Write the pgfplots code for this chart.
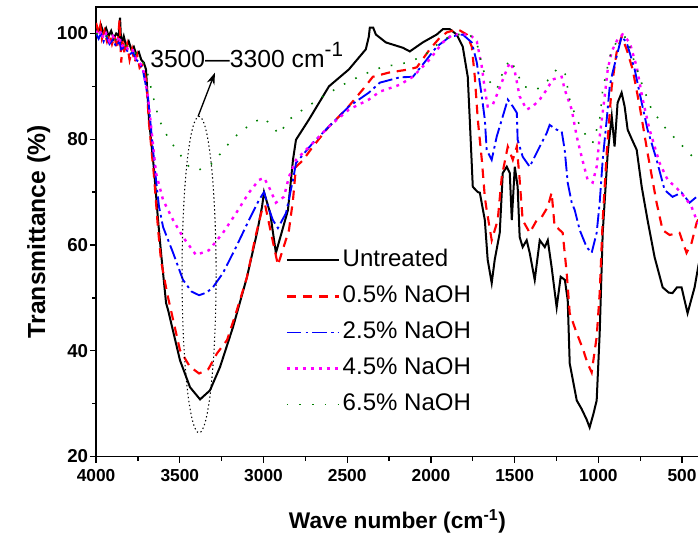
\documentclass[border=0pt]{standalone}
\usepackage{pgfplots}
\pgfplotsset{compat=1.18}
\usepackage{fontspec}
\setmainfont{Liberation Sans}
\usetikzlibrary{arrows.meta,calc}
\definecolor{cred}{RGB}{255,0,0}
\definecolor{cblue}{RGB}{0,0,255}
\definecolor{cmag}{RGB}{255,0,255}
\definecolor{cgreen}{RGB}{0,128,0}
\begin{document}
\begin{tikzpicture}
\begin{axis}[
  scale only axis,
  width=451.5pt, height=336.75pt,
  x dir=reverse,
  xmin=400, xmax=4000, ymin=20, ymax=105,
  xtick={500,1000,...,4000},
  ytick={20,40,60,80,100},
  minor x tick num=1, minor y tick num=1,
  xtick pos=bottom, ytick pos=left,
  tick align=outside,
  major tick length=4.5pt, minor tick length=3pt,
  every tick/.style={black,line width=1pt},
  axis line style={line width=1pt},
  /pgf/number format/assume math mode=true,
  /pgf/number format/set thousands separator={},
  xticklabel style={font=\fontsize{13}{15}\bfseries\selectfont, yshift=-1.5pt},
  yticklabel style={font=\fontsize{14}{16}\bfseries\selectfont, xshift=2pt},
  xlabel={Wave number (cm\textsuperscript{-1})},
  ylabel={Transmittance (\%)},
  xlabel style={font=\fontsize{17}{20}\bfseries\selectfont, yshift=-14pt},
  ylabel style={font=\fontsize{18.5}{22}\bfseries\selectfont, yshift=-2pt},
  legend style={at={(0.314,0.468)}, anchor=north west, draw=none, fill=none,
     font=\fontsize{18}{21.6}\selectfont, row sep=6pt, inner sep=0pt,
     nodes={text height=13pt, text depth=4pt}},
  legend cell align=left,
  legend image code/.code={\draw[#1] (0pt,0pt) -- (39pt,0pt);},
]
% Untreated
\addplot[black, line width=1.5pt] coordinates {
(4000,101) (3985,100.5) (3970,101.5) (3955,100) (3940,101) (3925,99.5) (3910,100.5) (3895,99) (3880,100) (3865,99.5) (3857,103) (3850,98) (3835,99.5) (3820,97.5) (3805,98.5) (3790,97) (3775,97.5) (3760,96) (3745,96.5) (3730,95) (3715,94.5) (3702,93.2)
(3684,83.7) (3654,74.2) (3630,64.7) (3612,58.5) (3582,49) (3570,47.7) (3499,38.2) (3439,33.1) (3379,30.8) (3320,32.5) (3260,36.9) (3182,44.5) (3099,53.9) (3039,62.3) (3009,67.2) (2997,70) (2960,66) (2926,58.5) (2854,66.6) (2824,76.1) (2806,79.9) (2729,83.7) (2609,90) (2490,93.2) (2389,97) (2371,99.4) (2365,101.1) (2345,101.1) (2329,99.8) (2269,98.3) (2168,97.3) (2126,96.6) (2049,98.3) (1965,99.8) (1929,100.8) (1887,100.8) (1846,99.8) (1810,97.5) (1780,91.8) (1768,83.7) (1750,71) (1720,70) (1708,69.9) (1678,64.7) (1661,57.2) (1637,52.8) (1619,57.2) (1589,62.3) (1571,73.6) (1547,74.8) (1529,73.6) (1517,64.7) (1499,74.8) (1482,71) (1470,61.5) (1452,59.6) (1428,60.9) (1410,58.5) (1380,53.4) (1350,60.9) (1320,59.6) (1302,60.9) (1279,55.8) (1249,48.2) (1225,54) (1200,53.4) (1183,49.6) (1171,37.6) (1129,30.6) (1100,29) (1070,27) (1052,25.5) (1030,28) (1010,30.6) (992,43.3) (974,62.3) (944,77.4) (920,84.3) (903,78.6) (885,86.9) (861,88.8) (843,86.2) (825,81.8) (800,80) (771,78) (741,71) (706,64.7) (664,57.7) (616,52) (580,51) (557,50.9) (530,52) (503,52) (467,47.1) (425,52) (400,56.5)
};
\addlegendentry{Untreated}
% 0.5% NaOH
\addplot[cred, line width=1.6pt, dash pattern=on 7pt off 5pt] coordinates {
(4000,102) (3985,100) (3975,101.5) (3965,99) (3950,100.5) (3935,98.5) (3920,100) (3905,98) (3890,99.5) (3875,97) (3860,102.5) (3850,94.5) (3840,99) (3830,96) (3815,98) (3800,95) (3785,97) (3770,94.5) (3755,96) (3740,93.5) (3725,94) (3710,92.5) (3700,91)
(3684,83) (3654,73) (3630,63) (3612,57) (3576,50.9) (3499,40.1) (3440,37) (3385,35.7) (3330,36.5) (3278,39.5) (3218,42) (3159,47.7) (3099,53.9) (3045,62) (3010,66.5) (2990,67.5) (2960,63) (2914,56.2) (2848,62.8) (2824,68.5) (2806,74.8) (2765,76) (2705,78.6) (2609,82.4) (2508,85.6) (2407,89.4) (2347,91.8) (2251,92.6) (2132,93.2) (2084,93.6) (2007,97) (1947,99.2) (1905,100.2) (1840,100.8) (1786,99.8) (1756,97.5) (1738,91.8) (1720,83.7) (1696,76.1) (1678,69) (1667,66.6) (1637,60.9) (1601,64.7) (1577,72.9) (1541,78.6) (1511,76.1) (1487,78.6) (1470,72.3) (1452,64.7) (1410,62.3) (1368,64.7) (1338,65.3) (1302,67.2) (1279,69.9) (1261,63.4) (1243,63.2) (1213,62.3) (1189,54.7) (1171,47.1) (1129,43.3) (1094,40.5) (1064,37.6) (1040,35.9) (1010,42.6) (992,50.9) (974,64.7) (950,77.4) (920,90) (891,96.4) (861,99.4) (831,97) (795,93.2) (753,86.2) (706,77.4) (652,68) (616,62.8) (574,61.9) (515,62.3) (473,58.5) (443,60.4) (413,64.2) (400,65)
};
\addlegendentry{0.5\% NaOH}
% 2.5% NaOH
\addplot[cblue, line width=1.4pt, dash pattern=on 11pt off 3pt on 2pt off 3pt] coordinates {
(4000,100) (3985,99) (3970,100) (3955,98.5) (3940,99.5) (3920,98) (3900,98.8) (3880,97.5) (3860,98.5) (3850,97) (3830,97.5) (3800,96) (3780,96.5) (3760,95) (3740,94.5) (3720,93) (3690,88) (3660,78) (3642,72.3) (3624,67.2) (3600,63.4) (3540,58.5) (3481,53.4) (3430,51.2) (3385,50.5) (3340,51) (3302,52) (3242,54.7) (3164,59.6) (3087,64.7) (3027,68.5) (2997,70) (2970,67) (2944,64.7) (2914,63.2) (2866,66) (2824,72.3) (2806,75.5) (2705,79.3) (2609,82.4) (2490,86.2) (2371,88.8) (2305,90.7) (2186,91.7) (2108,91.8) (2049,94.1) (1965,97.5) (1887,99.4) (1810,99.8) (1756,98.3) (1726,94.5) (1696,88.1) (1678,83.7) (1667,78) (1637,76.1) (1607,80.5) (1571,84.3) (1541,87.5) (1511,86.2) (1487,85) (1482,79.9) (1452,76.7) (1410,74.8) (1380,76.7) (1350,78.6) (1308,81.2) (1291,82.7) (1249,81.8) (1219,81.5) (1201,78) (1183,71.8) (1159,68) (1141,66.6) (1111,62.8) (1070,59.6) (1040,58.5) (1010,62.3) (992,68) (974,76.1) (950,83.7) (932,90) (915,92.6) (891,95.6) (861,99.4) (831,98.3) (783,93.2) (741,86.9) (706,81.8) (652,76.1) (604,70.4) (557,69.1) (503,69.9) (455,68) (413,69.1) (400,69)
};
\addlegendentry{2.5\% NaOH}
% 4.5% NaOH
\addplot[cmag, line width=1.8pt, dash pattern=on 2.2pt off 3.8pt] coordinates {
(4000,100.5) (3985,99.5) (3970,100.5) (3955,99) (3940,100) (3920,98.5) (3900,99.5) (3880,98.5) (3860,99.5) (3850,97.5) (3830,98) (3800,96.5) (3780,96.8) (3760,95) (3740,94.5) (3720,93.5) (3690,88) (3660,79) (3642,73.6) (3600,68.5) (3540,64.7) (3481,61.5) (3403,58.1) (3326,59) (3242,62.3) (3164,66) (3087,69.9) (3027,72.3) (2997,72.7) (2968,71) (2926,68) (2878,69.1) (2848,72.9) (2806,76.1) (2705,79.3) (2609,82.4) (2490,85.6) (2371,87.5) (2305,89) (2186,90.3) (2108,91.8) (2007,95.1) (1929,98.3) (1869,99.8) (1768,99.8) (1726,98.5) (1696,93.7) (1678,89.4) (1661,86.2) (1631,86.5) (1601,88.8) (1559,92.2) (1529,94.5) (1499,92.8) (1470,88.1) (1428,85.6) (1392,86.2) (1350,87.5) (1308,89.4) (1273,91.3) (1219,91.8) (1201,89.4) (1159,85.6) (1129,80.5) (1100,76.7) (1064,72.3) (1034,71.8) (1010,74.8) (992,80.5) (962,88.1) (944,93.2) (920,96.6) (885,98.9) (855,99.8) (813,98.3) (771,93.7) (735,87.5) (694,81.8) (634,75.5) (586,72.3) (533,70.8) (485,69.1) (443,67.2) (413,64.7) (400,64)
};
\addlegendentry{4.5\% NaOH}
% 6.5% NaOH
\addplot[cgreen, line width=1.2pt, dash pattern=on 1.2pt off 8.3pt] coordinates {
(4000,100) (3975,99.5) (3950,100) (3925,99) (3900,99.5) (3875,98.5) (3850,98.5) (3825,97.8) (3800,97.5) (3775,96.5) (3750,96) (3702,93.7) (3660,88.1) (3624,83.7) (3564,79.9) (3505,77.4) (3445,74.8) (3385,74.2) (3302,75.5) (3224,78.6) (3147,81.2) (3063,83.1) (3003,84.1) (2944,82.4) (2908,80.9) (2848,83.7) (2765,85.6) (2645,88.1) (2526,90.3) (2407,92.2) (2287,93.7) (2168,94.3) (2049,95.6) (1947,98.3) (1869,99.8) (1768,99.8) (1720,97.5) (1690,93.2) (1649,90.9) (1607,89.4) (1571,92.6) (1529,95.1) (1487,92.8) (1452,90) (1368,89.4) (1308,90.9) (1249,93.2) (1201,92.8) (1171,87.5) (1129,83.7) (1070,80.5) (1034,79.3) (992,83.7) (974,89.4) (932,95.6) (885,98.9) (831,99.4) (795,95.6) (735,90) (682,85.6) (592,81.8) (515,79.3) (437,76.7) (413,76.1) (400,76)
};
\addlegendentry{6.5\% NaOH}
% annotation
\draw[black, line width=0.8pt, dash pattern=on 1pt off 2pt] (axis cs:3385,54.4) ellipse [x radius=12.75pt, y radius=118.5pt];
\draw[-{Stealth[length=9pt,width=6pt]}, line width=1pt] (axis cs:3391,84.3) -- (axis cs:3290,92.6);
\node[anchor=base west, inner sep=0pt, font=\fontsize{18.5}{21}\selectfont] at (axis cs:3678,93.6) {3500—3300 cm\raisebox{0.8ex}{\fontsize{15.5}{15.5}\selectfont -1}};
\end{axis}
\pgfresetboundingbox
\path ($(current axis.south west)+(-72pt,-57.75pt)$) rectangle ($(current axis.north east)+(-0.6pt,5.25pt)$);
\end{tikzpicture}
\end{document}
